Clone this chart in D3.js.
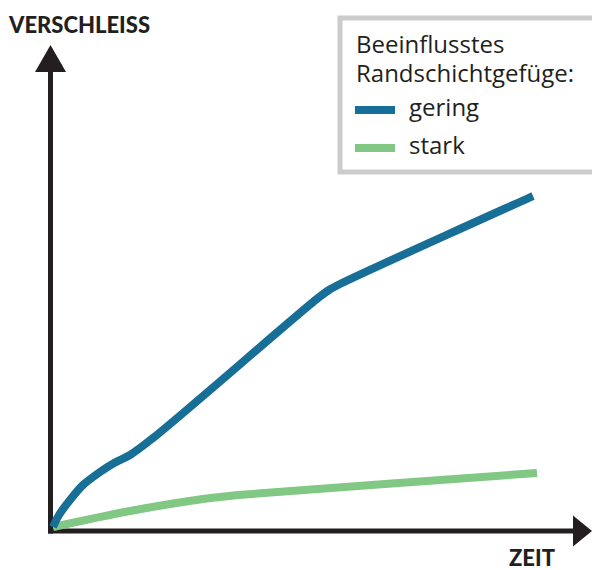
<!DOCTYPE html>
<html lang="de">
<head>
<meta charset="UTF-8">
<title>Verschleiss</title>
<style>
  body { margin: 0; background: #fff; }
  .axis-label { font-family: Lato, sans-serif; font-weight: 900; font-size: 22px; fill: #231f20; }
  .legend-text { font-family: "Open Sans", sans-serif; font-weight: 400; font-size: 24px; fill: #231f20; }
</style>
</head>
<body>
<svg id="chart"></svg>
<script src="https://d3js.org/d3.v7.min.js"></script>
<script>
// data (time / wear, arbitrary units 0..100)
var gering = [[0, 0], [1.2, 2.4], [3.4, 5.4], [6, 8.4], [9.4, 11], [12.4, 12.9], [15.4, 14.4], [20, 17.8], [53, 45.8], [55.2, 47.4], [57.4, 48.6], [96, 66.2]];
var stark = [[0, 0], [15.4, 3.2], [30, 5.6], [33.4, 6], [37, 6.4], [96.8, 10.8]];
var seriesNames = ['gering', 'stark'];
var seriesColors = ['#176e96', '#80c883'];
var legendTitle = ['Beeinflusstes', 'Randschichtgefüge:'];

var svgWidth = 592, svgHeight = 570
var svg = d3.select('#chart').attr('width', svgWidth).attr('height', svgHeight)

var x = d3.scaleLinear().domain([0, 100]).range([53, 553])
var y = d3.scaleLinear().domain([0, 100]).range([527, 27])

var axisColor = '#231f20'
var ax = x(0) - 2.5, ay = y(0) + 4

// y axis + arrow
svg.append('line')
    .attr('x1', ax).attr('x2', ax)
    .attr('y1', ay + 2.5).attr('y2', 70)
    .attr('stroke', axisColor).attr('stroke-width', 5)
svg.append('path')
    .attr('d', 'M' + ax + ',45 L' + (ax + 15.5) + ',72 L' + (ax - 15.5) + ',72 Z')
    .attr('fill', axisColor)

// x axis + arrow
svg.append('line')
    .attr('x1', ax - 2.5).attr('x2', 575)
    .attr('y1', ay).attr('y2', ay)
    .attr('stroke', axisColor).attr('stroke-width', 5)
svg.append('path')
    .attr('d', 'M592,' + ay + ' L573,' + (ay - 15.5) + ' L573,' + (ay + 15.5) + ' Z')
    .attr('fill', axisColor)

svg.append('text').attr('class', 'axis-label').attr('x', 9).attr('y', 33).text('VERSCHLEISS')
svg.append('text').attr('class', 'axis-label').attr('x', 509).attr('y', 566).text('ZEIT')

var line = d3.line()
    .x(function (d) { return x(d[0]) })
    .y(function (d) { return y(d[1]) })
    .curve(d3.curveCatmullRom.alpha(0.5))

svg.selectAll('path.series')
    .data([stark, gering])
    .enter()
    .append('path')
    .attr('class', 'series')
    .attr('d', line)
    .attr('fill', 'none')
    .attr('stroke', function (d, i) { return i == 0 ? seriesColors[1] : seriesColors[0] })
    .attr('stroke-width', 8)
    .attr('stroke-linejoin', 'round')

// legend
var legend = svg.append('g')
legend.append('rect')
    .attr('x', 340).attr('y', 18)
    .attr('width', 270).attr('height', 154)
    .attr('fill', '#fff')
    .attr('stroke', '#cccccc').attr('stroke-width', 5)

legend.selectAll('text.title')
    .data(legendTitle)
    .enter()
    .append('text')
    .attr('class', 'legend-text')
    .attr('x', 356)
    .attr('y', function (d, i) { return 53 + i * 29 })
    .text(function (d) { return d })

var items = legend.selectAll('g.item')
    .data(seriesNames)
    .enter()
    .append('g')
    .attr('class', 'item')
    .attr('transform', function (d, i) { return 'translate(0,' + (110 + i * 38) + ')' })

items.append('line')
    .attr('x1', 355).attr('x2', 395)
    .attr('stroke', function (d, i) { return seriesColors[i] })
    .attr('stroke-width', 8)
items.append('text')
    .attr('class', 'legend-text')
    .attr('x', 409).attr('y', 6)
    .text(function (d) { return d })
</script>
</body>
</html>
